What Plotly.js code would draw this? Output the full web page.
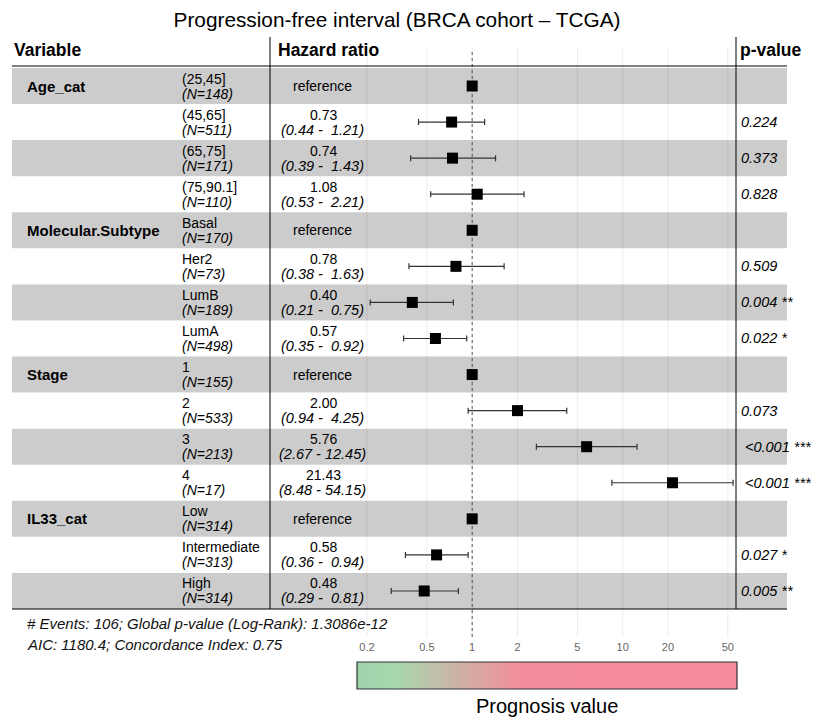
<!DOCTYPE html>
<html><head><meta charset="utf-8">
<script src="https://cdn.plot.ly/plotly-3.0.1.min.js"></script>
<style>html,body{margin:0;padding:0;background:#fff}</style>
</head><body><div id="chart" style="width:815px;height:718px"></div>
<script>
// ---- data ----
const variables = ['Age_cat','','','','Molecular.Subtype','','','','Stage','','','','IL33_cat','',''];
const levels = ['(25,45]','(45,65]','(65,75]','(75,90.1]','Basal','Her2','LumB','LumA','1','2','3','4','Low','Intermediate','High'];
const nCounts = [148,511,171,110,170,73,189,498,155,533,213,17,314,313,314];
const hazardRatios = [1,0.73,0.74,1.08,1,0.78,0.40,0.57,1,2.00,5.76,21.43,1,0.58,0.48];
const ciLow = [null,0.44,0.39,0.53,null,0.38,0.21,0.35,null,0.94,2.67,8.48,null,0.36,0.29];
const ciHigh = [null,1.21,1.43,2.21,null,1.63,0.75,0.92,null,4.25,12.45,54.15,null,0.94,0.81];
const pValues = ['','0.224','0.373','0.828','','0.509','0.004 **','0.022 *','','0.073','<0.001 ***','<0.001 ***','','0.027 *','0.005 **'];
const tickVals = [0.2,0.5,1,2,5,10,20,50];
const tickLabels = ['0.2','0.5','1','2','5','10','20','50'];
const footerLines = ['# Events: 106; Global p-value (Log-Rank): 1.3086e-12','AIC: 1180.4; Concordance Index: 0.75'];

// ---- layout helpers ----
const W = 815, H = 718, PL = 12, PR = 787;
const px = v => (v - PL) / (PR - PL);
const py = v => 1 - v / H;
const rows = levels.map((_, i) => i + 1);
const yDom = [py(637), py(48)];
const FONT = 'Liberation Sans, Arial, sans-serif';

const shapes = [];
// grid lines
tickVals.forEach(v => shapes.push({type:'line', xref:'x', yref:'paper', x0:v, x1:v, y0:yDom[0], y1:yDom[1], line:{color:'#ebebeb', width:1}, layer:'below'}));
// row bands
rows.forEach(r => shapes.push({type:'rect', xref:'paper', yref:'y', x0:0, x1:1, y0:r-0.5, y1:r+0.5,
  fillcolor: (r % 2 === 1) ? 'rgba(0,0,0,0.2)' : 'rgba(255,255,255,0.2)', line:{width:0}, layer:'below'}));
// reference line at HR = 1
shapes.push({type:'line', xref:'x', yref:'paper', x0:1, x1:1, y0:yDom[0], y1:py(50), line:{color:'#555', width:1, dash:'dot'}, layer:'below'});
// table rules
[270, 736].forEach(x => shapes.push({type:'line', xref:'paper', yref:'paper', x0:px(x), x1:px(x), y0:py(37), y1:py(609), line:{color:'#000', width:1}, layer:'above'}));
[66, 609].forEach(y => shapes.push({type:'line', xref:'paper', yref:'paper', x0:px(12), x1:px(787), y0:py(y), y1:py(y), line:{color:'#000', width:1}, layer:'above'}));
// colour bar frame
shapes.push({type:'rect', xref:'paper', yref:'paper', x0:px(357), x1:px(737), y0:py(689), y1:py(662), line:{color:'#333', width:1.2}, layer:'above'});

const ann = [];
const A = (o) => ann.push(Object.assign({showarrow:false, xref:'paper', yanchor:'middle', borderpad:0, font:{family:FONT, color:'#000', size:14}}, o));
// header
A({text:'<b>Variable</b>', x:px(13), y:py(50), yref:'paper', xanchor:'left', font:{family:FONT, size:17.5, color:'#000'}});
A({text:'<b>Hazard ratio</b>', x:px(277), y:py(50), yref:'paper', xanchor:'left', font:{family:FONT, size:17.5, color:'#000'}});
A({text:'<b>p-value</b>', x:px(739), y:py(50), yref:'paper', xanchor:'left', font:{family:FONT, size:17.5, color:'#000'}});

rows.forEach((r, i) => {
  if (variables[i]) A({text:'<b>' + variables[i] + '</b>', x:px(26), y:r, yref:'y', xanchor:'left', font:{family:FONT, size:15, color:'#000'}});
  A({text:levels[i], x:px(181), y:r, yref:'y', xanchor:'left', yshift:7.5});
  A({text:'<i>(N=' + nCounts[i] + ')</i>', x:px(181), y:r, yref:'y', xanchor:'left', yshift:-7.5});
  if (ciLow[i] === null) {
    A({text:'reference', x:px(322), y:r, yref:'y', xanchor:'center'});
  } else {
    A({text:hazardRatios[i].toFixed(2), x:px(323), y:r, yref:'y', xanchor:'center', yshift:7.5});
    A({text:'<i>(' + ciLow[i].toFixed(2) + ' - ' + ciHigh[i].toFixed(2).padStart(5, ' ') + ')</i>', x:px(322), y:r, yref:'y', xanchor:'center', yshift:-7.5, font:{family:FONT, size:14.5, color:'#000'}});
  }
  if (pValues[i]) A({text:'<i>' + pValues[i] + '</i>', x:px(740), y:r, yref:'y', xanchor:'left', xshift: pValues[i].startsWith('<') ? 4 : 0, font:{family:FONT, size:14.5, color:'#000'}});
});
footerLines.forEach((t, k) => A({text:'<i>' + t + '</i>', x:px(26), y:py(623 + 21*k), yref:'paper', xanchor:'left', font:{family:FONT, size:15, color:'#111'}}));
A({text:'Prognosis value', x:px(547), y:py(706), yref:'paper', xanchor:'center', font:{family:FONT, size:20, color:'#000'}});

const errPlus = hazardRatios.map((h, i) => ciHigh[i] === null ? null : ciHigh[i] - h);
const errMinus = hazardRatios.map((h, i) => ciLow[i] === null ? null : h - ciLow[i]);

const traces = [
  {type:'heatmap', x:[0,1], y:[0,1], z:[[0,1],[0,1]], xaxis:'x2', yaxis:'y2', zsmooth:'best', zmin:0, zmax:1, showscale:false, hoverinfo:'skip',
   colorscale:[[0,'#9fd4ab'],[0.1,'#a6d8ad'],[0.43,'#f48d9b'],[1,'#f48b9b']]},
  {type:'scatter', mode:'markers', x:hazardRatios, y:rows, cliponaxis:false,
   marker:{symbol:'square', size:11, color:'#000'},
   error_x:{type:'data', symmetric:false, array:errPlus, arrayminus:errMinus, color:'#333', thickness:1.2, width:3}}
];

const layout = {
  width:W, height:H, margin:{l:PL, r:W-PR, t:0, b:0},
  paper_bgcolor:'#fff', plot_bgcolor:'rgba(0,0,0,0)', showlegend:false,
  font:{family:FONT, color:'#000'},
  title:{text:'Progression-free interval (BRCA cohort – TCGA)', xref:'container', yref:'container', x:397/W, y:py(20), xanchor:'center', yanchor:'middle', font:{family:FONT, size:20.8, color:'#000'}},
  xaxis:{type:'log', range:[-3.058, 2.092], tickvals:tickVals, ticktext:tickLabels, showgrid:false, zeroline:false, showline:false, ticks:'', ticklabelstandoff:2, tickfont:{family:FONT, size:11, color:'#666'}, domain:[0,1], anchor:'y'},
  yaxis:{range:[16.276, -0.0535], domain:yDom, showgrid:false, zeroline:false, showticklabels:false, ticks:'', anchor:'x'},
  xaxis2:{domain:[px(357), px(737)], range:[0,1], visible:false, anchor:'y2'},
  yaxis2:{domain:[py(689), py(662)], range:[0,1], visible:false, anchor:'x2'},
  shapes:shapes, annotations:ann
};
Plotly.newPlot('chart', traces, layout, {displayModeBar:false, staticPlot:true});
</script></body></html>
